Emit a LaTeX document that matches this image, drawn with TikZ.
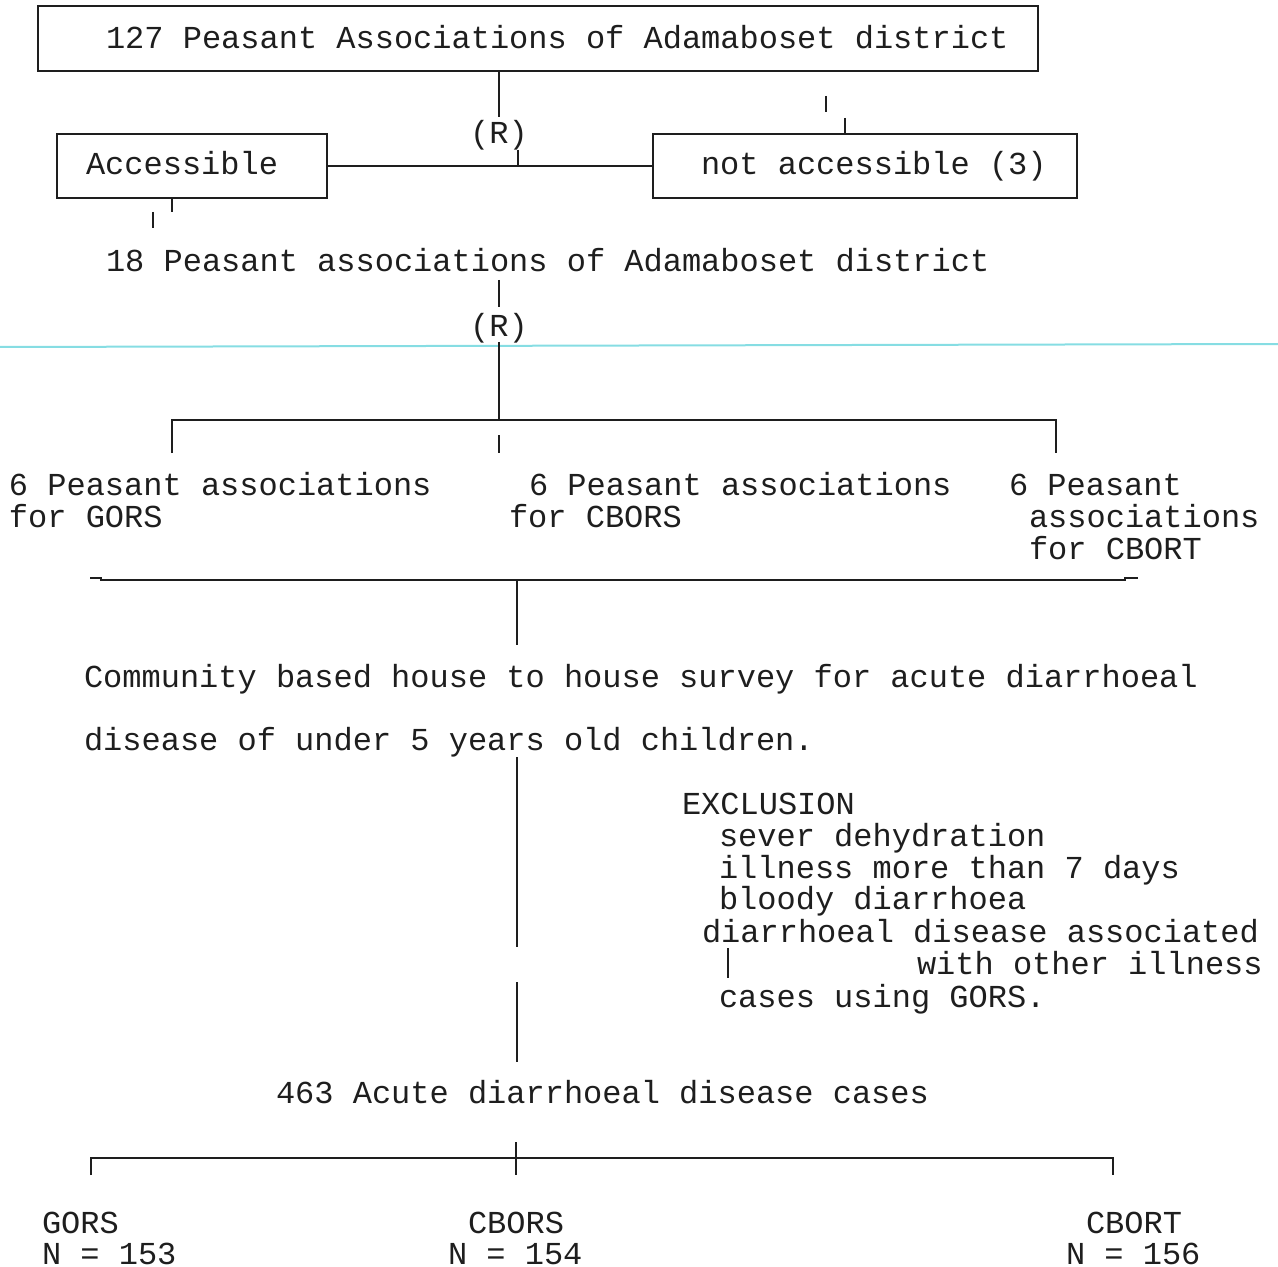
\documentclass[tikz,border=0pt]{standalone}
\usepackage{fontspec}
\setmonofont{Liberation Mono}
\definecolor{ink}{HTML}{1E1E1E}
\definecolor{scan}{HTML}{86DDE3}
\begin{document}
\begin{tikzpicture}[x=0.5pt,y=-0.5pt,line width=1pt,draw=ink,
  txt/.style={font=\ttfamily\fontsize{16}{19}\selectfont,anchor=base west,inner sep=0pt,text=ink,xshift=-1pt,yshift=-1pt},
  ctr/.style={font=\ttfamily\fontsize{16}{19}\selectfont,anchor=base,inner sep=0pt,text=ink,yshift=-1pt},
  box/.style={draw=ink,line width=1.2pt,rectangle,anchor=north west,inner sep=0pt}]
\useasboundingbox (0,0) rectangle (1278,1267);

% scan artefact line
\draw[scan,line width=1pt] (0,347) -- (1278,344);

% boxes
\node[box,minimum width=500pt,minimum height=32.5pt] (top) at (37,5) {};
\node[box,minimum width=135pt,minimum height=32pt] (acc) at (56,133) {};
\node[box,minimum width=212pt,minimum height=32pt] (nacc) at (652,133) {};

\node[txt] (ttop) at (107,47) {127 Peasant Associations of Adamaboset district};
\node[txt] (tacc) at (87,173) {Accessible};
\node[txt] (tnacc) at (702,173) {not accessible (3)};

% random selection 1
\node[ctr] (R1) at (499,142) {(R)};
\coordinate (r1a) at (499,117);
\coordinate (j1) at (518,165);
\coordinate (j1a) at (518,150);
\draw (r1a |- top.south) -- (r1a);
\draw (j1a) -- (j1);
\draw (acc.east) -- (nacc.west);

% small ticks
\coordinate (t1a) at (826,96);
\coordinate (t1b) at (826,112);
\coordinate (t2) at (845,118);
\draw (t1a) -- (t1b);
\draw (t2) -- (t2 |- nacc.north);
\coordinate (t3) at (172,212);
\coordinate (t4a) at (153,212);
\coordinate (t4b) at (153,228);
\draw (t3 |- acc.south) -- (t3);
\draw (t4a) -- (t4b);

% 18 associations
\node[txt] (n18) at (107,270) {18 Peasant associations of Adamaboset district};
\node[ctr] (R2) at (499,334) {(R)};
\coordinate (r2a) at (499,280);
\coordinate (r2b) at (499,307);
\coordinate (r2c) at (499,342);
\coordinate (r2d) at (499,420);
\draw (r2a) -- (r2b);
\draw (r2c) -- (r2d);

% three-way split
\coordinate (sL) at (172,420);
\coordinate (sR) at (1056,420);
\coordinate (sLb) at (172,453);
\coordinate (sRb) at (1056,453);
\coordinate (sMa) at (499,435);
\coordinate (sMb) at (499,453);
\draw (sLb) -- (sL) -- (sR) -- (sRb);
\draw (sMa) -- (sMb);

\node[txt] (g1) at (10,493) {6 Peasant associations};
\node[txt] (g1b) at (10,525) {for GORS};
\node[txt] (g2) at (530,493) {6 Peasant associations};
\node[txt] (g2b) at (510,525) {for CBORS};
\node[txt] (g3) at (1010,493) {6 Peasant};
\node[txt] (g3b) at (1030,525) {associations};
\node[txt] (g3c) at (1030,557) {for CBORT};

% merge
\coordinate (mL) at (100,580);
\coordinate (mR) at (1126,580);
\coordinate (mM) at (517,580);
\coordinate (mMb) at (517,645);
\draw (mL) -- (mR);
\draw (mM) -- (mMb);
\draw (mL) ++(-10,-2) -- ++(12,0);
\draw (mR) ++(-2,-2) -- ++(14,0);

\node[txt] (surv1) at (85,685) {Community based house to house survey for acute diarrhoeal};
\node[txt] (surv2) at (85,748) {disease of under 5 years old children.};

\coordinate (v1) at (517,757);
\coordinate (v2) at (517,947);
\coordinate (v3) at (517,982);
\coordinate (v4) at (517,1062);
\draw (v1) -- (v2);
\draw (v3) -- (v4);

% exclusion
\node[txt] (ex0) at (683,812) {EXCLUSION};
\node[txt] (ex1) at (720,844) {sever dehydration};
\node[txt] (ex2) at (720,876) {illness more than 7 days};
\node[txt] (ex3) at (720,907) {bloody diarrhoea};
\node[txt] (ex4) at (703,940) {diarrhoeal disease associated};
\node[txt] (ex5) at (918,972) {with other illness};
\node[txt] (ex6) at (720,1005) {cases using GORS.};
\coordinate (eb1) at (728,948);
\coordinate (eb2) at (728,978);
\draw (eb1) -- (eb2);

\node[txt] (cases) at (277,1101) {463 Acute diarrhoeal disease cases};

% final split
\coordinate (fM) at (516,1142);
\coordinate (fMb) at (516,1175);
\coordinate (fL) at (91,1158);
\coordinate (fR) at (1113,1158);
\coordinate (fLb) at (91,1175);
\coordinate (fRb) at (1113,1175);
\draw (fLb) -- (fL) -- (fR) -- (fRb);
\draw (fM) -- (fMb);

\node[txt] (o1) at (43,1231) {GORS};
\node[txt] (o1n) at (43,1262) {N = 153};
\node[txt] (o2) at (469,1231) {CBORS};
\node[txt] (o2n) at (449,1262) {N = 154};
\node[txt] (o3) at (1087,1231) {CBORT};
\node[txt] (o3n) at (1067,1262) {N = 156};
\end{tikzpicture}
\end{document}
